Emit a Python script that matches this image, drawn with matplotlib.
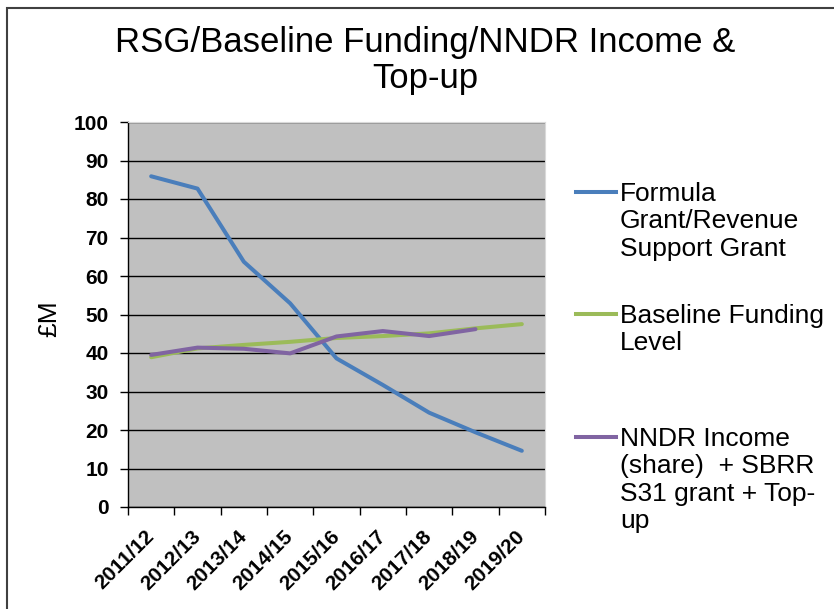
import numpy as np
import matplotlib.pyplot as plt
from matplotlib.lines import Line2D
from matplotlib.patches import Rectangle

plt.rcParams['font.family'] = ['Liberation Sans', 'DejaVu Sans']

years = ["2011/12", "2012/13", "2013/14", "2014/15", "2015/16",
         "2016/17", "2017/18", "2018/19", "2019/20"]
rsg = [85.9, 82.7, 63.7, 52.9, 38.6, 31.7, 24.5, 19.4, 14.6]
baseline = [38.9, 41.2, 42.1, 42.9, 43.9, 44.4, 45.1, 46.4, 47.5]
nndr = [39.5, 41.4, 41.1, 39.9, 44.3, 45.7, 44.4, 46.2]

labels = ["Formula\nGrant/Revenue\nSupport Grant",
          "Baseline Funding\nLevel",
          "NNDR Income\n(share)  + SBRR\nS31 grant + Top-\nup"]
colors = ["#4A7EBB", "#9BBB59", "#8064A2"]

W, H = 834, 609
fig = plt.figure(figsize=(W / 100, H / 100), dpi=100)
ax = fig.add_axes([128 / W, 1 - 507 / H, (545 - 128) / W, (507 - 122) / H])
ax.set_facecolor("#C0C0C0")

x = np.arange(len(years))
ax.plot(x, rsg, color=colors[0], lw=2.9, solid_capstyle="round")
ax.plot(x, baseline, color=colors[1], lw=2.9, solid_capstyle="round")
ax.plot(np.arange(len(nndr)), nndr, color=colors[2], lw=2.9, solid_capstyle="round")

ax.set_xlim(-0.5, len(years) - 0.5)
ax.set_ylim(0, 100)
ax.set_yticks(range(0, 101, 10))
ax.yaxis.grid(True, color="black", lw=1)
ax.set_axisbelow(True)

ax.set_xticks(x)
ax.set_xticklabels(years, rotation=45, ha="right", va="center",
                   rotation_mode="anchor", fontsize=15, fontweight="bold")
ax.set_xticks(np.arange(-0.5, len(years)), minor=True)
ax.tick_params(axis="x", which="major", length=0, pad=19)
ax.tick_params(axis="x", which="minor", length=6, width=1, color="black")
ax.tick_params(axis="y", length=6, width=1, labelsize=15, pad=8)
for t in ax.get_yticklabels():
    t.set_fontweight("bold")

for side in ["top", "right"]:
    ax.spines[side].set_color("#D9D9D9")
for side in ["left", "bottom"]:
    ax.spines[side].set_color("black")
    ax.spines[side].set_linewidth(1)

ax.set_ylabel("£M", fontsize=19)
ax.yaxis.set_label_coords(-(128 - 61) / 417, 0.49)

fig.text(425 / W, 1 - 26 / H, "RSG/Baseline Funding/NNDR Income &\nTop-up",
         ha="center", va="top", fontsize=25, linespacing=1.1)

# legend drawn by hand so each key sits on the first text line
first_line_y = [192, 314, 437]
for lab, col, yy in zip(labels, colors, first_line_y):
    fig.add_artist(Line2D([576 / W, 616 / W], [1 - yy / H, 1 - yy / H],
                          color=col, lw=2.9, transform=fig.transFigure))
    fig.text(620 / W, 1 - (yy - 10) / H, lab, ha="left", va="top",
             fontsize=19, linespacing=1.18)

fig.add_artist(Rectangle((7 / W, -0.1), 1.2, 1.1 - 8 / H, fill=False,
                         edgecolor="#404040", lw=1.5, transform=fig.transFigure))

fig.savefig("out.png", dpi=100)
